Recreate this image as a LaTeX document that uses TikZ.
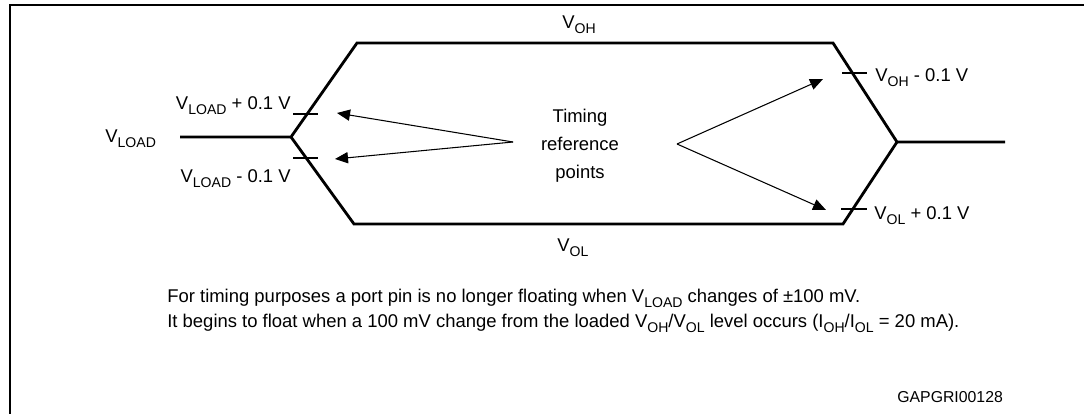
\documentclass[tikz,border=0pt]{standalone}
\usepackage{fontspec}
\setmainfont{Liberation Sans}
\usetikzlibrary{arrows.meta}
\newcommand{\lsub}[1]{\raisebox{-2.4pt}{\fontsize{8}{9}\selectfont #1}}

\begin{document}
\begin{tikzpicture}[x=0.2mm, y=-0.2mm, >={Triangle[length=7.4pt,width=6.4pt]},
    font=\fontsize{10.5}{16}\selectfont,
    frame/.style={line width=1.5pt, line join=miter},
    wave/.style={line width=1.6pt, line join=miter},
    refbar/.style={line width=1.1pt},
    refarrow/.style={->, line width=0.6pt},
    lbl/.style={inner sep=0pt}]
  \useasboundingbox (0,0) rectangle (1084,414);
  % ---------------- frame ----------------
  \draw[frame] (10,414) -- (10,5) -- (1084,5);
  % ---------------- waveform ----------------
  \coordinate (L0) at (180,137);
  \coordinate (J1) at (291,137);
  \coordinate (TL) at (357,43);
  \coordinate (TR) at (833,43);
  \coordinate (J2) at (897,142);
  \coordinate (R0) at (1005,142);
  \coordinate (BL) at (354,224);
  \coordinate (BR) at (843,224);
  \draw[wave] (L0) -- (J1) -- (TL) -- (TR) -- (J2) -- (R0);
  \draw[wave] (J1) -- (BL) -- (BR) -- (J2);
  % reference levels on the edges
  \draw[refbar] (293,114) -- (318,114);
  \draw[refbar] (293,158) -- (318,158);
  \draw[refbar] (842,73) -- (867,73);
  \draw[refbar] (841,209) -- (867,209);
  % ---------------- labels ----------------
  \node[lbl, anchor=base west] (voh) at (562,29) {V\lsub{OH}};
  \node[lbl, anchor=base west] (vol) at (557,252) {V\lsub{OL}};
  \node[lbl, anchor=base west] (vload) at (105,143) {V\lsub{LOAD}};
  \node[lbl, anchor=base east] (vlp) at (291,110) {V\lsub{LOAD} + 0.1 V};
  \node[lbl, anchor=base east] (vlm) at (291,183) {V\lsub{LOAD} - 0.1 V};
  \node[lbl, anchor=base west] (vohm) at (875,82) {V\lsub{OH} - 0.1 V};
  \node[lbl, anchor=base west] (volp) at (874,220) {V\lsub{OL} + 0.1 V};
  \node[align=center] (trp) at (580,146) {Timing\\ reference\\ points};
  % ---------------- arrows to the reference points ----------------
  \coordinate (srcL) at (513,142);
  \coordinate (srcR) at (677,144);
  \coordinate (tipLU) at (337,113);
  \coordinate (tipLD) at (335,159);
  \coordinate (tipRU) at (823,79);
  \coordinate (tipRD) at (826,210);
  \draw[refarrow] (srcL) -- (tipLU);
  \draw[refarrow] (srcL) -- (tipLD);
  \draw[refarrow] (srcR) -- (tipRU);
  \draw[refarrow] (srcR) -- (tipRD);
  % ---------------- notes ----------------
  \node[lbl, anchor=base west] (note1) at (167,303)
       {For timing purposes a port pin is no longer floating when V\lsub{LOAD} changes of ±100 mV.};
  \node[lbl, anchor=base west] (note2) at (167,328)
       {It begins to float when a 100 mV change from the loaded V\lsub{OH}/V\lsub{OL} level occurs (I\lsub{OH}/I\lsub{OL} = 20 mA).};
  \node[lbl, anchor=base west, font=\fontsize{9}{11}\selectfont] (code) at (897,403) {GAPGRI00128};
\end{tikzpicture}
\end{document}
